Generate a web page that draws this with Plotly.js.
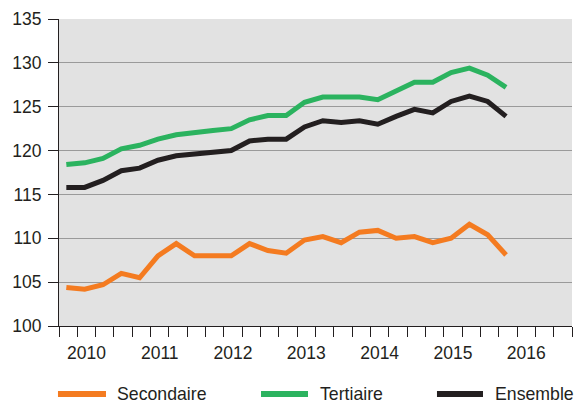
<!DOCTYPE html>
<html>
<head>
<meta charset="utf-8">
<script src="https://cdn.plot.ly/plotly-3.0.1.min.js"></script>
<style>
  html, body { margin: 0; padding: 0; background: #ffffff; }
  #chart { width: 587px; height: 404px; }
</style>
</head>
<body>
<div id="chart"></div>
<script>
// Quarterly observations, 2009 Q4 to 2015 Q4
const quarters = [
  '2009T4',
  '2010T1','2010T2','2010T3','2010T4',
  '2011T1','2011T2','2011T3','2011T4',
  '2012T1','2012T2','2012T3','2012T4',
  '2013T1','2013T2','2013T3','2013T4',
  '2014T1','2014T2','2014T3','2014T4',
  '2015T1','2015T2','2015T3','2015T4'
];

const secondaire = [
  104.4,
  104.2, 104.7, 106.0, 105.5,
  108.0, 109.4, 108.0, 108.0,
  108.0, 109.4, 108.6, 108.3,
  109.8, 110.2, 109.5, 110.7,
  110.9, 110.0, 110.2, 109.5,
  110.0, 111.6, 110.4, 108.1
];

const tertiaire = [
  118.4,
  118.6, 119.1, 120.2, 120.6,
  121.3, 121.8, 122.1, 122.3,
  122.5, 123.5, 124.0, 124.0,
  125.5, 126.1, 126.1, 126.1,
  125.8, 126.8, 127.8, 127.8,
  128.9, 129.4, 128.6, 127.2
];

const ensemble = [
  115.8,
  115.8, 116.6, 117.7, 118.0,
  118.9, 119.4, 119.6, 119.8,
  120.0, 121.1, 121.3, 121.3,
  122.7, 123.4, 123.2, 123.4,
  123.0, 123.9, 124.7, 124.3,
  125.6, 126.2, 125.6, 123.9
];

const seriesNames = ['Secondaire', 'Tertiaire', 'Ensemble'];
const seriesColors = ['#F47B20', '#2BB35F', '#231F20'];
const yearLabels = ['2010', '2011', '2012', '2013', '2014', '2015', '2016'];
const yTicks = [100, 105, 110, 115, 120, 125, 130, 135];

const xIdx = quarters.map((q, i) => i);
const seriesValues = [secondaire, tertiaire, ensemble];

const traces = seriesValues.map((vals, k) => ({
  type: 'scatter',
  mode: 'lines',
  name: seriesNames[k],
  x: xIdx,
  y: vals,
  line: { color: seriesColors[k], width: 5 },
  hoverinfo: 'x+y+name',
  showlegend: false
}));

const font = { family: 'Liberation Sans, Arial, sans-serif', size: 17.5, color: '#231F20' };

// custom legend below the plot (line sample + label)
const legendLineX = [[-0.002, 0.0916], [0.3938, 0.4854], [0.7368, 0.8265]];
const legendTextX = [0.1092, 0.5049, 0.846];
const legendY = -0.2215;

const shapes = seriesNames.map((n, k) => ({
  type: 'line', xref: 'paper', yref: 'paper',
  x0: legendLineX[k][0], x1: legendLineX[k][1], y0: legendY, y1: legendY,
  line: { color: seriesColors[k], width: 6 }
}));

const annotations = seriesNames.map((n, k) => ({
  text: n, xref: 'paper', yref: 'paper',
  x: legendTextX[k], y: legendY, xanchor: 'left', yanchor: 'middle',
  showarrow: false, font: { family: font.family, size: 17.7, color: '#231F20' }
}));

const layout = {
  width: 587,
  height: 404,
  margin: { l: 59, r: 15, t: 19, b: 78, pad: 0 },
  paper_bgcolor: '#ffffff',
  plot_bgcolor: '#E2E2E2',
  font: font,
  showlegend: false,
  xaxis: {
    range: [-0.4, 27.6],
    tickmode: 'array',
    tickvals: yearLabels.map((y, k) => 1.1 + 4 * k),
    ticktext: yearLabels,
    ticks: '',
    ticklabelstandoff: 11,
    showgrid: false,
    zeroline: false,
    showline: true,
    linecolor: '#231F20',
    linewidth: 1,
    tickfont: font,
    minor: {
      tickmode: 'linear',
      tick0: 0.6,
      dtick: 1,
      ticks: 'outside',
      ticklen: 10,
      tickwidth: 1,
      tickcolor: '#231F20',
      showgrid: false
    },
    fixedrange: true
  },
  yaxis: {
    range: [100, 135],
    tickmode: 'array',
    tickvals: yTicks,
    ticktext: yTicks.map(String),
    ticks: 'outside',
    ticklen: 10,
    tickwidth: 1,
    tickcolor: '#231F20',
    ticklabelstandoff: 3,
    showgrid: true,
    gridcolor: '#9A9A9A',
    gridwidth: 1,
    zeroline: false,
    showline: true,
    linecolor: '#231F20',
    linewidth: 1,
    tickfont: font,
    fixedrange: true
  },
  shapes: shapes,
  annotations: annotations
};

Plotly.newPlot('chart', traces, layout, { displayModeBar: false, staticPlot: true });
</script>
</body>
</html>
